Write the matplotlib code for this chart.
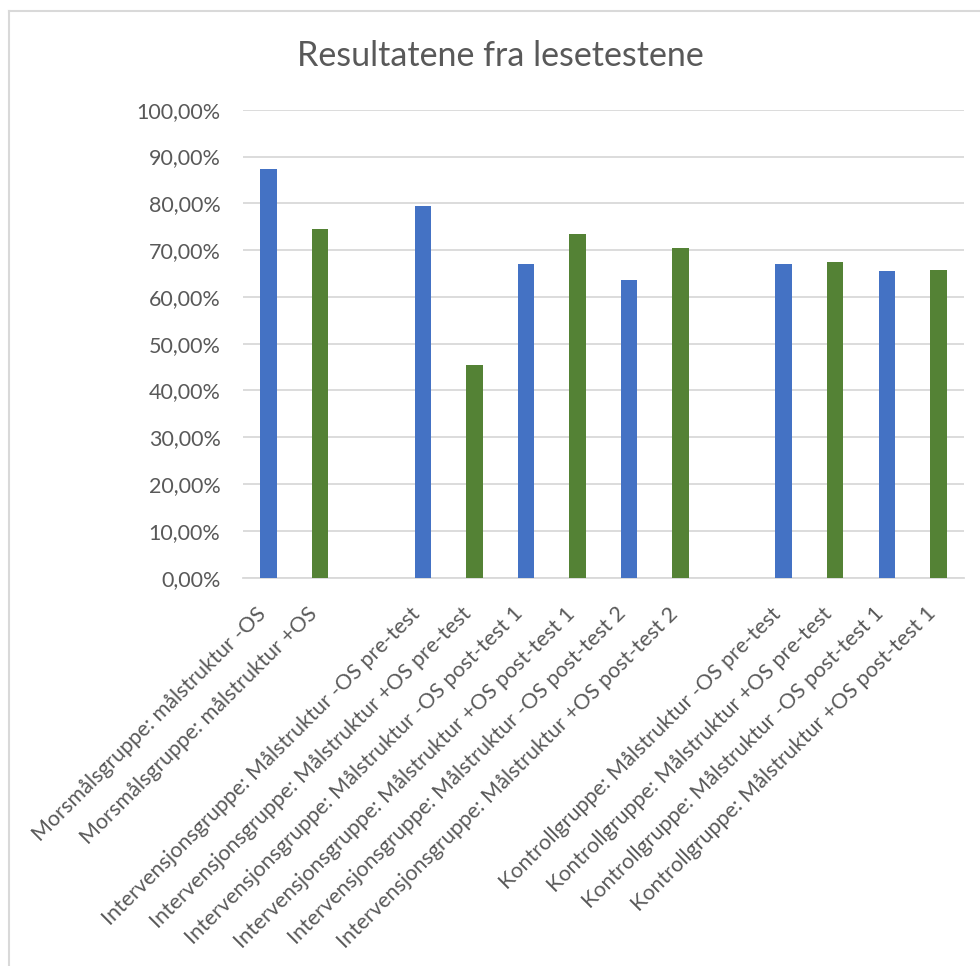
import matplotlib
matplotlib.use("Agg")
import matplotlib.pyplot as plt
import matplotlib.transforms as mtransforms
from matplotlib.lines import Line2D
from matplotlib.ticker import FuncFormatter

# Data (slots 2 and 9 are empty gaps between groups)
labels = [
    "Morsmålsgruppe: målstruktur -OS",
    "Morsmålsgruppe: målstruktur +OS",
    "",
    "Intervensjonsgruppe: Målstruktur -OS pre-test",
    "Intervensjonsgruppe: Målstruktur +OS pre-test",
    "Intervensjonsgruppe: Målstruktur -OS post-test 1",
    "Intervensjonsgruppe: Målstruktur +OS post-test 1",
    "Intervensjonsgruppe: Målstruktur -OS post-test 2",
    "Intervensjonsgruppe: Målstruktur +OS post-test 2",
    "",
    "Kontrollgruppe: Målstruktur -OS pre-test",
    "Kontrollgruppe: Målstruktur +OS pre-test",
    "Kontrollgruppe: Målstruktur -OS post-test 1",
    "Kontrollgruppe: Målstruktur +OS post-test 1",
]
values = [87.3, 74.5, None, 79.4, 45.4, 67.0, 73.4, 63.6, 70.4, None, 67.0, 67.5, 65.5, 65.7]
series = ["minus", "plus", None, "minus", "plus", "minus", "plus", "minus", "plus", None,
          "minus", "plus", "minus", "plus"]
colors = {"minus": "#4472C4", "plus": "#548235"}

plt.rcParams['font.family'] = ['Lato', 'DejaVu Sans']

fig = plt.figure(figsize=(9.8, 9.66), dpi=100)
ax = fig.add_axes([0.2477, 0.402, 0.736, 0.4844])

for i, (v, s) in enumerate(zip(values, series)):
    if v is None:
        continue
    ax.bar(i, v, width=0.32, color=colors[s], zorder=3)

ax.set_xlim(-0.5, len(labels) - 0.5)
ax.set_ylim(0, 100)
ax.set_yticks(range(0, 101, 10))
ax.yaxis.set_major_formatter(FuncFormatter(lambda y, _: f"{y:.2f}%".replace(".", ",")))
ax.grid(axis="y", color="#D9D9D9", linewidth=1.3, zorder=0)

# category labels, rotated 45 deg, right end just below each slot
ax.set_xticks([])
offset = mtransforms.ScaledTranslation(-0.06, -0.33, fig.dpi_scale_trans)
for i, lab in enumerate(labels):
    if not lab:
        continue
    ax.text(i, 0, lab, transform=ax.get_xaxis_transform() + offset,
            rotation=45, ha="right", va="center", rotation_mode="anchor",
            fontsize=15.5, color="#595959")

ax.tick_params(axis="y", length=0, pad=16, labelsize=15.5, labelcolor="#595959")

for side in ["top", "right", "left"]:
    ax.spines[side].set_visible(False)
ax.spines["bottom"].set_color("#D9D9D9")
ax.spines["bottom"].set_linewidth(1.3)

fig.text(0.511, 0.942, "Resultatene fra lesetestene", ha="center", va="center",
         fontsize=24.5, color="#595959")

# chart area border (cropped)
fig.add_artist(Line2D([0.0087, 1.0], [0.9885, 0.9885], color="#D9D9D9", linewidth=1.5))
fig.add_artist(Line2D([0.0087, 0.0087], [0.0, 0.9885], color="#D9D9D9", linewidth=1.5))

fig.savefig("out.png", dpi=100)
